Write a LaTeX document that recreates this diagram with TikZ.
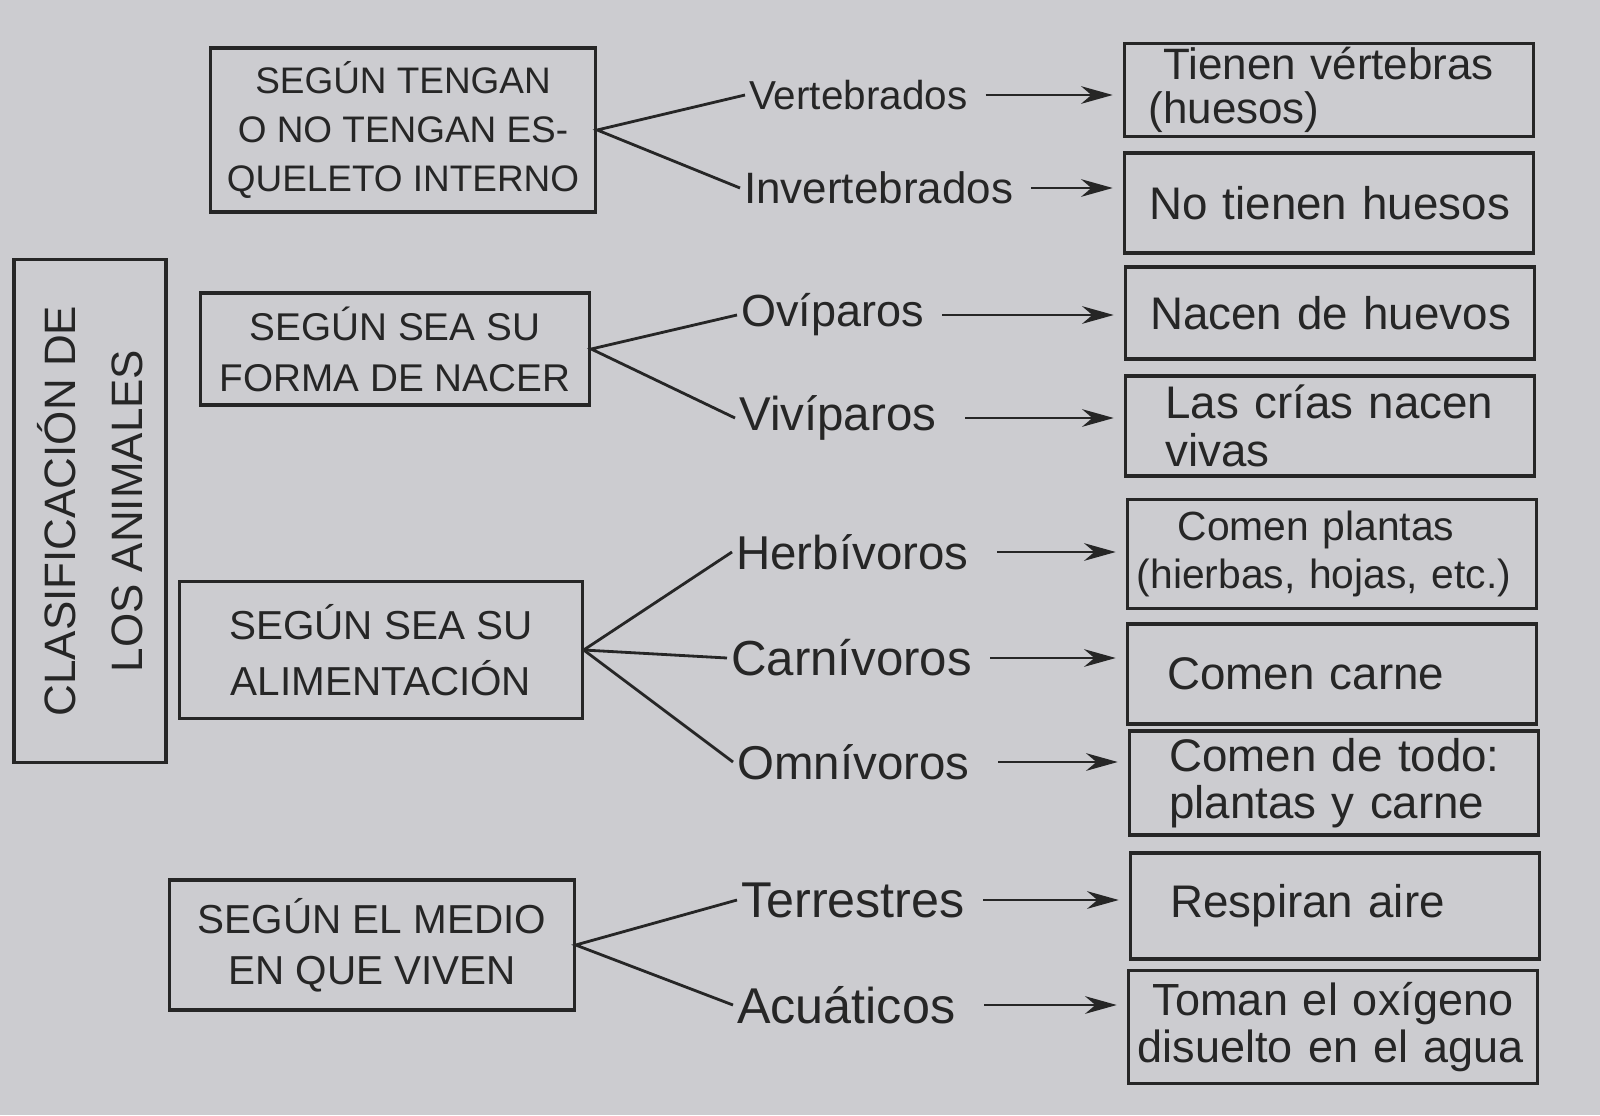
\documentclass[tikz,border=0pt]{standalone}
\usepackage{fontspec}
\setmainfont{Liberation Sans}
\newfontfamily\hand{Liberation Sans}
\usetikzlibrary{arrows.meta}
\definecolor{paper}{RGB}{204,204,208}
\definecolor{ink}{RGB}{38,38,38}

\begin{document}
\begin{tikzpicture}[x=0.01cm,y=-0.01cm,
    every node/.style={text=ink},
    caja/.style={draw=ink,line width=0.9pt,align=center,inner sep=0pt,
      font=\fontsize{11}{14.5}\selectfont},
    resp/.style={draw=ink,line width=0.9pt,align=left,text width=3.9cm,inner xsep=0.09cm,
      inner ysep=0pt,font=\hand\fontsize{13}{13.5}\selectfont},
    tipo/.style={anchor=west,inner sep=1pt,font=\hand\fontsize{13.5}{13.5}\selectfont},
    rama/.style={draw=ink,line width=0.8pt},
    flecha/.style={draw=ink,line width=0.8pt,-{Stealth[length=9pt,width=5pt]},
      shorten <=4pt,shorten >=3pt}]
  \useasboundingbox (0,0) rectangle (1600,1115);
  \fill[paper] (0,0) rectangle (1600,1115);
  \node[caja,rotate=90,minimum width=5.03cm,minimum height=1.52cm,
    font=\fontsize{12.5}{19}\selectfont] (clas) at (90,511) {CLASIFICACIÓN DE\\LOS ANIMALES};
  \node[caja,minimum width=3.85cm,minimum height=1.64cm,
    font=\fontsize{10.5}{14}\selectfont] (esq) at (403,130)
    {SEGÚN TENGAN\\O NO TENGAN ES-\\QUELETO INTERNO};
  \node[caja,minimum width=3.89cm,minimum height=1.12cm] (nac) at (395,349)
    {SEGÚN SEA SU\\FORMA DE NACER};
  \node[caja,minimum width=4.02cm,minimum height=1.37cm,
    font=\fontsize{11.5}{16}\selectfont] (ali) at (381,650) {SEGÚN SEA SU\\ALIMENTACIÓN};
  \node[caja,minimum width=4.04cm,minimum height=1.30cm,
    font=\fontsize{11.5}{14.5}\selectfont] (med) at (372,945)
    {SEGÚN EL MEDIO\\EN QUE VIVEN};

  \node[tipo,font=\hand\fontsize{11.5}{11.5}\selectfont] (vert) at (745,95) {Vertebrados};
  \node[tipo,font=\hand\fontsize{12.5}{12.5}\selectfont] (inv) at (740,188) {Invertebrados};
  \node[tipo,font=\hand\fontsize{12.8}{12.8}\selectfont] (ovi) at (737,315) {Ovíparos};
  \node[tipo] (viv) at (735,418) {Vivíparos};
  \node[tipo] (herb) at (732,552) {Herbívoros};
  \node[tipo,font=\hand\fontsize{14}{14}\selectfont] (carn) at (727,658) {Carnívoros};
  \node[tipo] (omni) at (733,762) {Omnívoros};
  \node[tipo,font=\hand\fontsize{14.3}{14.3}\selectfont] (terr) at (737,900) {Terrestres};
  \node[tipo,font=\hand\fontsize{14.3}{14.3}\selectfont] (acu) at (733,1005) {Acuáticos};

  \node[resp,minimum height=0.93cm,font=\hand\fontsize{12.5}{12.5}\selectfont] (r1) at (1329,90)
    {\ \ Tienen vértebras\\\ (huesos)};
  \node[resp,minimum height=1.00cm] (r2) at (1329,203) {\ No tienen huesos};
  \node[resp,minimum height=0.92cm] (r3) at (1330,313) {\ Nacen de huevos};
  \node[resp,minimum height=1.00cm] (r4) at (1330,426) {\ \ Las crías nacen\\\ \ vivas};
  \node[resp,minimum height=1.09cm,font=\hand\fontsize{11.6}{13.5}\selectfont] (r5) at (1332,554)
    {\ \ \ Comen plantas\\(hierbas, hojas, etc.)};
  \node[resp,minimum height=1.00cm] (r6) at (1332,674) {\ \ Comen carne};
  \node[resp,minimum height=1.04cm] (r7) at (1334,783) {\ \ Comen de todo:\\\ \ plantas y carne};
  \node[resp,minimum height=1.06cm] (r8) at (1335,906) {\ \ Respiran aire};
  \node[resp,minimum height=1.13cm,font=\hand\fontsize{12.8}{13.5}\selectfont] (r9) at (1333,1027)
    {\ Toman el oxígeno\\disuelto en el agua};

  \draw[rama] (vert.west) -- (esq.east) -- (inv.west);
  \draw[rama] (ovi.west) -- (nac.east) -- (viv.west);
  \draw[rama] (herb.west) -- (ali.east) -- (omni.west);
  \draw[rama] (ali.east) -- (carn.west);
  \draw[rama] (terr.west) -- (med.east) -- (acu.west);

  \draw[flecha] (vert.east) -- (vert.east -| r1.west);
  \draw[flecha] (inv.east) -- (inv.east -| r2.west);
  \draw[flecha] (ovi.east) -- (ovi.east -| r3.west);
  \draw[flecha] (viv.east) ++(3pt,0) -- (viv.east -| r4.west);
  \draw[flecha] (herb.east) ++(3pt,0) -- (herb.east -| r5.west);
  \draw[flecha] (carn.east) -- (carn.east -| r6.west);
  \draw[flecha] (omni.east) ++(3pt,0) -- (omni.east -| r7.west);
  \draw[flecha] (terr.east) -- (terr.east -| r8.west);
  \draw[flecha] (acu.east) ++(3pt,0) -- (acu.east -| r9.west);
\end{tikzpicture}
\end{document}
